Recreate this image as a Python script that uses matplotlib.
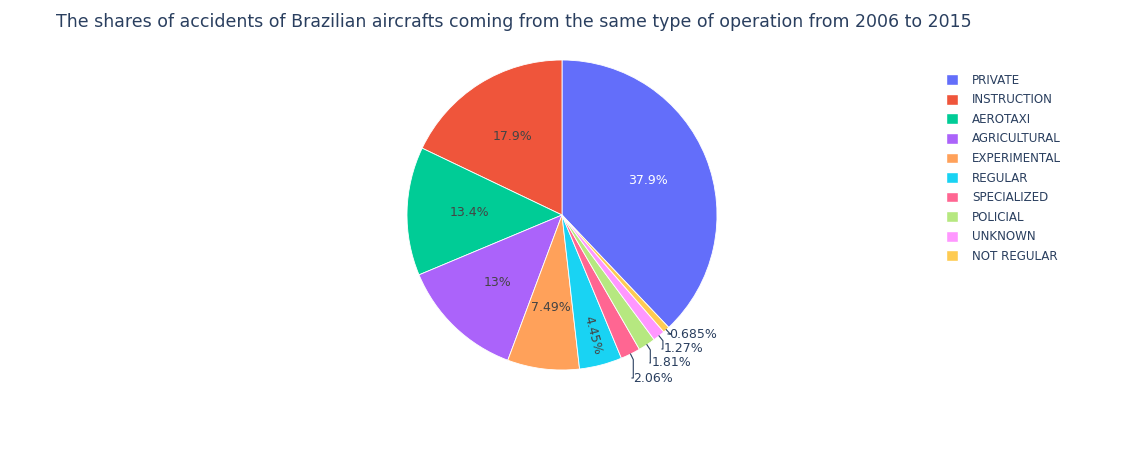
import matplotlib.pyplot as plt
import numpy as np
from matplotlib.patches import Patch

labels = ["PRIVATE", "INSTRUCTION", "AEROTAXI", "AGRICULTURAL", "EXPERIMENTAL",
          "REGULAR", "SPECIALIZED", "POLICIAL", "UNKNOWN", "NOT REGULAR"]
shares = [37.9, 17.9, 13.4, 13.0, 7.49, 4.45, 2.06, 1.81, 1.27, 0.685]
texts = ["37.9%", "17.9%", "13.4%", "13%", "7.49%", "4.45%", "2.06%", "1.81%", "1.27%", "0.685%"]
colors = ["#636efa", "#ef553b", "#00cc96", "#ab63fa", "#ffa15a",
          "#19d3f3", "#ff6692", "#b6e880", "#ff97ff", "#fecb52"]

W, H = 1121, 450
fig = plt.figure(figsize=(W / 100, H / 100), dpi=100)
cx, cy, R = 562, 215, 155
ax = fig.add_axes([(cx - R) / W, (H - cy - R) / H, 2 * R / W, 2 * R / H])

total = sum(shares)
start = 90 - 360 * shares[0] / total
wedges, _ = ax.pie(shares, colors=colors, startangle=start, counterclock=True,
                   radius=1, wedgeprops=dict(linewidth=0.6, edgecolor="white"))
ax.set_xlim(-1, 1)
ax.set_ylim(-1, 1)
ax.set_aspect("equal")
ax.axis("off")

# inside labels
for i, w in enumerate(wedges):
    if i >= 6:
        continue
    mid_deg = (w.theta1 + w.theta2) / 2
    mid = np.deg2rad(mid_deg)
    r = 0.6 if i < 5 else 0.8
    rot = 0
    if i == 5:
        rot = (mid_deg + 90) % 180 - 90
    ax.text(r * np.cos(mid), r * np.sin(mid), texts[i], ha="center", va="center",
            fontsize=9, rotation=rot, rotation_mode="anchor",
            color="white" if i == 0 else "#444444")

# outside labels with leader lines (pixel anchor positions)
outside = {6: (632, 378), 7: (650, 363), 8: (662, 349), 9: (668, 334)}
for i, (px, py) in outside.items():
    w = wedges[i]
    mid = np.deg2rad((w.theta1 + w.theta2) / 2)
    x0, y0 = np.cos(mid), np.sin(mid)
    tx, ty = (px - cx) / R, (cy - py) / R
    ax.plot([x0, x0 * 1.04, x0 * 1.04, tx], [y0, y0 * 1.04, ty, ty],
            color="#2a3f5f", lw=0.8, clip_on=False)
    ax.text(tx + 0.01, ty, texts[i], ha="left", va="center", fontsize=9,
            color="#2a3f5f", clip_on=False)

fig.text(56 / W, 1 - 22 / H, "The shares of accidents of Brazilian aircrafts coming from the same type of operation from 2006 to 2015",
         fontsize=12.5, color="#2a3f5f", ha="left", va="center")

handles = [Patch(facecolor=c, edgecolor="white") for c in colors]
fig.legend(handles, labels, loc="upper left", bbox_to_anchor=(935 / W, 1 - 63 / H),
           frameon=False, fontsize=8.6, labelcolor="#2a3f5f",
           handlelength=1.0, handleheight=1.0, labelspacing=0.55, handletextpad=1.2)

fig.savefig("out.png", dpi=100, facecolor="white")
